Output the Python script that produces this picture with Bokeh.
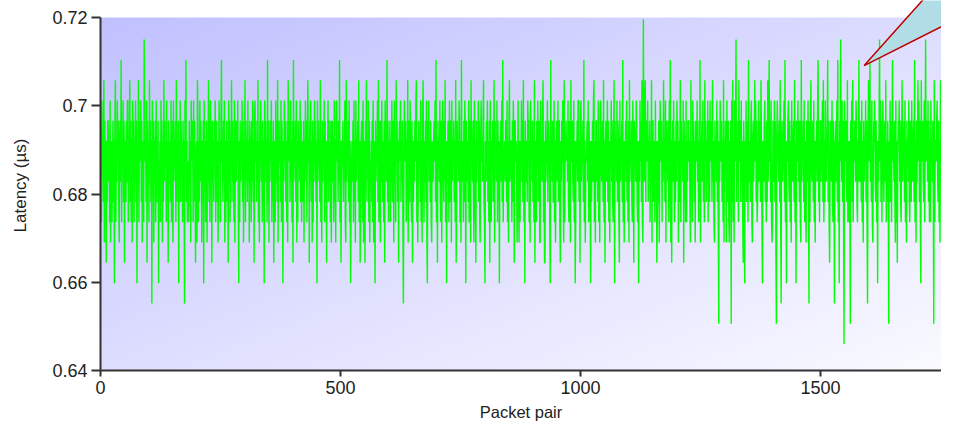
import numpy as np
from bokeh.plotting import figure
from bokeh.models import Range1d, FixedTicker, PrintfTickFormatter, PolyAnnotation
from bokeh.embed import file_html
from bokeh.resources import INLINE

# Latency levels seen in the picture (µs), keyed by a one-character code
LEVELS = {
    "0": 0.6460, "1": 0.6506, "2": 0.6552, "3": 0.6598, "4": 0.6644,
    "5": 0.6690, "6": 0.6736, "7": 0.6782, "8": 0.6828, "9": 0.6874,
    "a": 0.6920, "b": 0.6966, "c": 0.7012, "d": 0.7058, "e": 0.7104,
    "f": 0.7150, "g": 0.7196,
}

# Latency of each packet pair, 60 pairs per row, read (estimated) off the picture
LATENCY_ROWS = [
    "8b6c9a7d5b9a4a7bb8a6c58a69b7a3bd6a8c9b75ab8e6a9c7b49a7b8cc6a",
    "9d7b6a5c8b6a9c7b3a8d6ba9c7b5a86fb9a7c4b8a6d9b7a2c8b5a9b6c7a8",
    "b398a6c9b5a7d8b9a6c7a4b9a87c6b75c8a9b6d7a9b3a8c7b9a6b8a2c9e7",
    "a6967b8a5c9ba6c7b849a5db6a7c8b95a7b3c8a69b5a8d7b6ca94b8a7b9c",
    "6ab7a58c9a6be9a7b8c5a69b7a4c8b6a9d7b8a6c5ba8b9c73a6b8a9c7b5a",
    "8d6b9a7c8a5ba96b8c7a4bc9a7b8d6a5b9c8a6b7a3c9b8a6e7b5a8b9c6a7",
    "b49a6c8b7d5ab9a7c6b83a8c9b7a6b5da9b7c8a6b4e8a9b7c5a6b9a8c7b6",
    "a97b5a9c8b6ad9a4b8c7a5b6a9c8b7a3c8b9a7d6a5b8a9c6b7a4a9c7b8a6",
    "b59b8a6c7a5bc9a7b8e6a48a9b7a8c65d8a9b7c6a379a8b6c7a5c8a9b7d6",
    "a47ab96c58a4b9d7a8c6b598a7b6c5a93b8a9c7d6ba5b8c97a6b4c9a8e7b",
    "6a9b6a8c7ba5c8a6d9b7a4ab9c7a8b628c9ab6a7d59b7ca86b4a7a8b9cd6",
    "a58b9a7c6a5bd96a8b7c53bac8a7b65a98ab9c7e6a4b9a8c76b5ac97b8d6",
    "a3a9b86c7ab5c8a9b7a6d47b9a8cb6a5e8a96b7ca3b8a97c6ba5d9a8b75c",
    "6a4b8a9c7b65ac9a8bd763a9b8c7a6b4c86a9b7ad5b9a8c6b7a39ab8c7e6",
    "99a8bb7c6a5bd8aa96b7ca4bb9a858c75a6a9c8b7d6a3b8a97cbb6a5c9a8",
    "b7a6d4a86b9c7ab55c9a8bd6a44b8a9c7baa63e9a8b77c6a59ba8c7bb64a",
    "8b9c75d6aab9a8c76ba5d9ab87c6a36a9b8cc7a4bc8a9b7e6a599ab8c6b7",
    "a3a79b8cd6a5bb8a7c6a5bc98ab7d6a4ab89c7b6a5a9c8b76ad3b9a8c7ba",
    "64c8a9b7e6a5a9b8c7a6b5d8a9b76ca4b9a8cb76a3a8c9b7d65ga8cd7b9a",
    "c7a9b6a8d5bb7a96c8a46a7b58c9ab6a8d9a7c5ba98b6c7e5a4ab8c96a7b",
    "8c9b5a7ad6b9a8c4b7a6c6a8bb9a75d8a6c9b7a5ba9c8a6b7e5a9b8c7a6d",
    "9b7a8c6ba7c9ba7d8a65b9a8c7b61a8c9ab7a6d5a9b85c7ab65a8b1c7d6a",
    "5c9bf7a8b6d9ab7c8a64b93a8c7ba6e98a7bc65ab8ad9c7b679c8ab7da63",
    "a98bc7a6b7d8ae9b7c656ba8c7b51aca98b7d62ab89ac7e6a3a9bc87b6a5",
    "c98ab7d6a3b9ac8b7b65e8a9b7c6a75ba8c72b6ad98ab7c6a5a9b8ce7a6b",
    "b89ac7d6a7c98abe7b649ba8c76ba2a9b8c7e6a3b9fa8c7b60c9ab87d6a6",
    "a91b8c7d6a9ba8cb76a8e98ab7c6a5b8a9c7b62ad9ae8b7c659bac87b6a3",
    "a8bf9c7b6ac97ab8d6a7b91a8c7b6ae9a8b75c6a49bac8b76ad8a9b7c6a5",
    "b9a8c76ba7c98ab7e6a5b8ad9c7b63d9ab87c6af9ab8c7b6a6c9a8b71d6a",
    "a9bc87b6a5d9a8b71c6aba98c7b63ae98ab7c6a7b8a9c7b6a3c9ab87d6a5",
    "9b8a7c6a5bc98ab7d6a5b8a9c7b6a5a9c8b7a6d3b9ac87b6a7c8a9b7e6a5",
]

CODES = "".join(LATENCY_ROWS)
assert len(CODES) >= 1760
packet_pair = list(range(len(CODES)))
latency_us = [LEVELS[c] for c in CODES]

X_TICKS = [0, 500, 1000, 1500]
Y_TICKS = [0.64, 0.66, 0.68, 0.70, 0.72]
X_LABEL = "Packet pair"
Y_LABEL = "Latency (µs)"

# callout pointer (annotation shape, partly outside the visible area)
CALLOUT_XS = [1591, 1834, 1884]
CALLOUT_YS = [0.7091, 0.7387, 0.7252]

# layout: frame left at 100px, top of value range at 17px, 0.48 px per pair, 4436 px per µs
PX_PER_X = 0.48
PX_PER_Y = 4436.0
FRAME_W = 941 - 100
FRAME_H = 423 - 51
X_MIN, X_MAX = 0, FRAME_W / PX_PER_X
Y_MIN, Y_TOP_VALUE = 0.64, 0.72
Y_MAX = Y_MIN + FRAME_H / PX_PER_Y

FONT = "Liberation Sans"
TEXT_COLOR = "#222222"

p = figure(
    width=941, height=423,
    output_backend="svg", toolbar_location=None,
    x_range=Range1d(X_MIN, X_MAX), y_range=Range1d(Y_MIN, Y_MAX),
    min_border_left=100, min_border_right=0, min_border_top=0, min_border_bottom=51,
)
p.outline_line_color = None
p.background_fill_color = "white"
p.border_fill_color = "white"
p.xgrid.visible = False
p.ygrid.visible = False

# diagonal gradient background of the plot area (top-left lavender -> bottom-right near white)
H, W = 120, 240
tl = np.array([192.0, 192.0, 255.0])
br = np.array([250.0, 250.0, 255.0])
u = np.linspace(0, 1, W)[None, :]
v_top = 1 - np.linspace(0, 1, H)[:, None]
t = (u + v_top) / 2.0
img = np.empty((H, W), dtype=np.uint32)
view = img.view(dtype=np.uint8).reshape((H, W, 4))
for k in range(3):
    view[:, :, k] = np.round(tl[k] + t * (br[k] - tl[k])).astype(np.uint8)
view[:, :, 3] = 255
# gradient spans the area a right edge of 957px would show, so its colours match
p.image_rgba(image=[img], x=X_MIN, y=Y_MIN, dw=(957 - 100) / PX_PER_X, dh=Y_TOP_VALUE - Y_MIN)

p.line(packet_pair, latency_us, line_color="#00ff00", line_width=1.4, line_join="bevel")

p.add_layout(PolyAnnotation(xs=CALLOUT_XS, ys=CALLOUT_YS,
                            fill_color="#b0dde6", fill_alpha=1.0,
                            line_color="#c00000", line_alpha=1.0, line_width=1.5))

p.xaxis.ticker = FixedTicker(ticks=X_TICKS)
p.yaxis.ticker = FixedTicker(ticks=Y_TICKS)
p.yaxis.formatter = PrintfTickFormatter(format="%g")
p.yaxis.bounds = (Y_MIN, Y_TOP_VALUE)
p.xaxis.axis_label = X_LABEL
p.yaxis.axis_label = Y_LABEL

for ax in (p.xaxis[0], p.yaxis[0]):
    ax.axis_line_color = "#333333"
    ax.axis_line_width = 2
    ax.major_tick_line_color = "#333333"
    ax.major_tick_line_width = 2
    ax.major_tick_in = 0
    ax.minor_tick_line_color = None
    ax.major_label_text_font = FONT
    ax.major_label_text_font_size = "18px"
    ax.major_label_text_color = TEXT_COLOR
    ax.axis_label_text_font = FONT
    ax.axis_label_text_font_style = "normal"
    ax.axis_label_text_color = TEXT_COLOR

p.xaxis.axis_label_text_font_size = "16.5px"
p.yaxis.axis_label_text_font_size = "17px"
p.xaxis.major_tick_out = 6
p.xaxis.major_label_standoff = 4
p.xaxis.axis_label_standoff = 6
p.yaxis.major_tick_out = 9
p.yaxis.major_label_standoff = 4
p.yaxis.axis_label_standoff = 19

open("out.html", "w").write(file_html(p, INLINE))
